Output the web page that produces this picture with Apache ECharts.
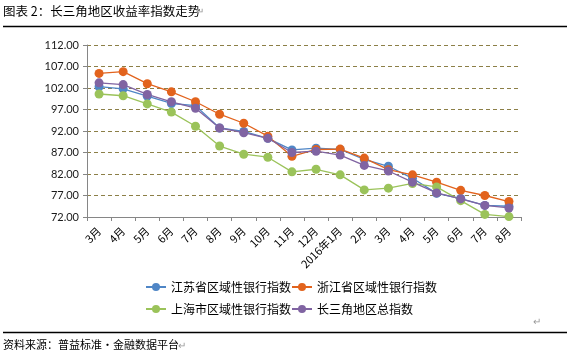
<!DOCTYPE html>
<html><head><meta charset="utf-8">
<script src="https://cdn.jsdelivr.net/npm/echarts@6/dist/echarts.min.js"></script>
<style>html,body{margin:0;padding:0;background:#fff}#c{width:572px;height:363px}</style>
</head><body><div id="c"></div>
<script>
const categories = ['3月','4月','5月','6月','7月','8月','9月','10月','11月','12月','2016年1月','2月','3月','4月','5月','6月','7月','8月'];
const seriesNames = ['江苏省区域性银行指数','浙江省区域性银行指数','上海市区域性银行指数','长三角地区总指数'];
const jiangsu  = [102.3,101.8,100.1,98.4,97.9,92.7,91.9,90.3,87.6,88.0,87.7,85.4,83.8,81.0,77.5,76.3,74.7,74.5];
const zhejiang = [105.4,105.8,103.0,101.1,98.8,95.9,93.8,90.8,86.1,87.7,87.8,85.7,83.0,81.8,80.1,78.2,77.0,75.6];
const shanghai = [100.6,100.2,98.3,96.4,93.1,88.5,86.6,85.9,82.5,83.1,81.8,78.3,78.7,79.8,79.0,75.8,72.6,72.1];
const total    = [103.2,102.8,100.5,98.8,97.3,92.7,91.6,90.3,87.0,87.3,86.4,84.0,82.7,80.1,77.6,76.2,74.7,74.1];
const yMin = 72, yMax = 112, yStep = 5;
const titleText = '图表 2：长三角地区收益率指数走势';
const sourceText = '资料来源：普益标准・金融数据平台';

const colors = ['#4F86C6','#E2631D','#9BC35A','#8064A2'];
const allData = [jiangsu, zhejiang, shanghai, total];
const cjk = '"Noto Sans CJK SC", sans-serif';

const chart = echarts.init(document.getElementById('c'), null, {renderer:'canvas'});
const legendBase = {left: 145, itemGap: 0, itemWidth: 20, itemHeight: 10, padding: 0,
  textStyle: {fontFamily: cjk, fontSize: 12, color: '#000'}};
chart.setOption({
  animation: false,
  color: colors,
  grid: {left: 87, right: 51, top: 45, bottom: 146, containLabel: false},
  legend: [
    Object.assign({data: [seriesNames[0], seriesNames[1]], top: 281}, legendBase),
    Object.assign({data: [seriesNames[2], seriesNames[3]], top: 303}, legendBase)
  ],
  xAxis: {
    type: 'category', data: categories, boundaryGap: true,
    axisLine: {lineStyle: {color: '#868686', width: 1}},
    axisTick: {show: true, length: 4, lineStyle: {color: '#868686'}},
    axisLabel: {rotate: 45, fontFamily: cjk, fontSize: 11, color: '#000', margin: 12, interval: 0}
  },
  yAxis: {
    type: 'value', min: yMin, max: yMax, interval: yStep,
    axisLine: {show: true, lineStyle: {color: '#868686', width: 1}},
    axisTick: {show: true, length: 4, lineStyle: {color: '#868686'}},
    axisLabel: {fontFamily: 'Lato, "Open Sans", sans-serif', fontSize: 11, color: '#1a1a1a', margin: 8,
      formatter: v => v.toFixed(2)},
    splitLine: {show: true, lineStyle: {color: '#8C7F47', type: [4, 3], width: 1}}
  },
  series: allData.map((d, i) => ({
    name: seriesNames[i], type: 'line', data: d,
    symbol: 'circle', symbolSize: 9,
    lineStyle: {width: 1.3, color: colors[i]},
    itemStyle: {color: colors[i]}
  })),
  graphic: [
    {type: 'text', left: 3, top: 5, style: {text: titleText, font: '12.5px ' + cjk, fill: '#000'}},
    {type: 'text', left: 196, top: 6, style: {text: '↵', font: '10px ' + cjk, fill: '#999'}},
    {type: 'line', shape: {x1: 3, y1: 26.5, x2: 567, y2: 26.5}, style: {stroke: '#000', lineWidth: 1.5}},
    {type: 'text', left: 533, top: 316, style: {text: '↵', font: '10px ' + cjk, fill: '#999'}},
    {type: 'line', shape: {x1: 3, y1: 332.5, x2: 567, y2: 332.5}, style: {stroke: '#000', lineWidth: 1.5}},
    {type: 'text', left: 3, top: 339, style: {text: sourceText, font: '11px ' + cjk, fill: '#000'}},
    {type: 'text', left: 178, top: 340, style: {text: '↵', font: '10px ' + cjk, fill: '#999'}}
  ]
});
</script></body></html>
